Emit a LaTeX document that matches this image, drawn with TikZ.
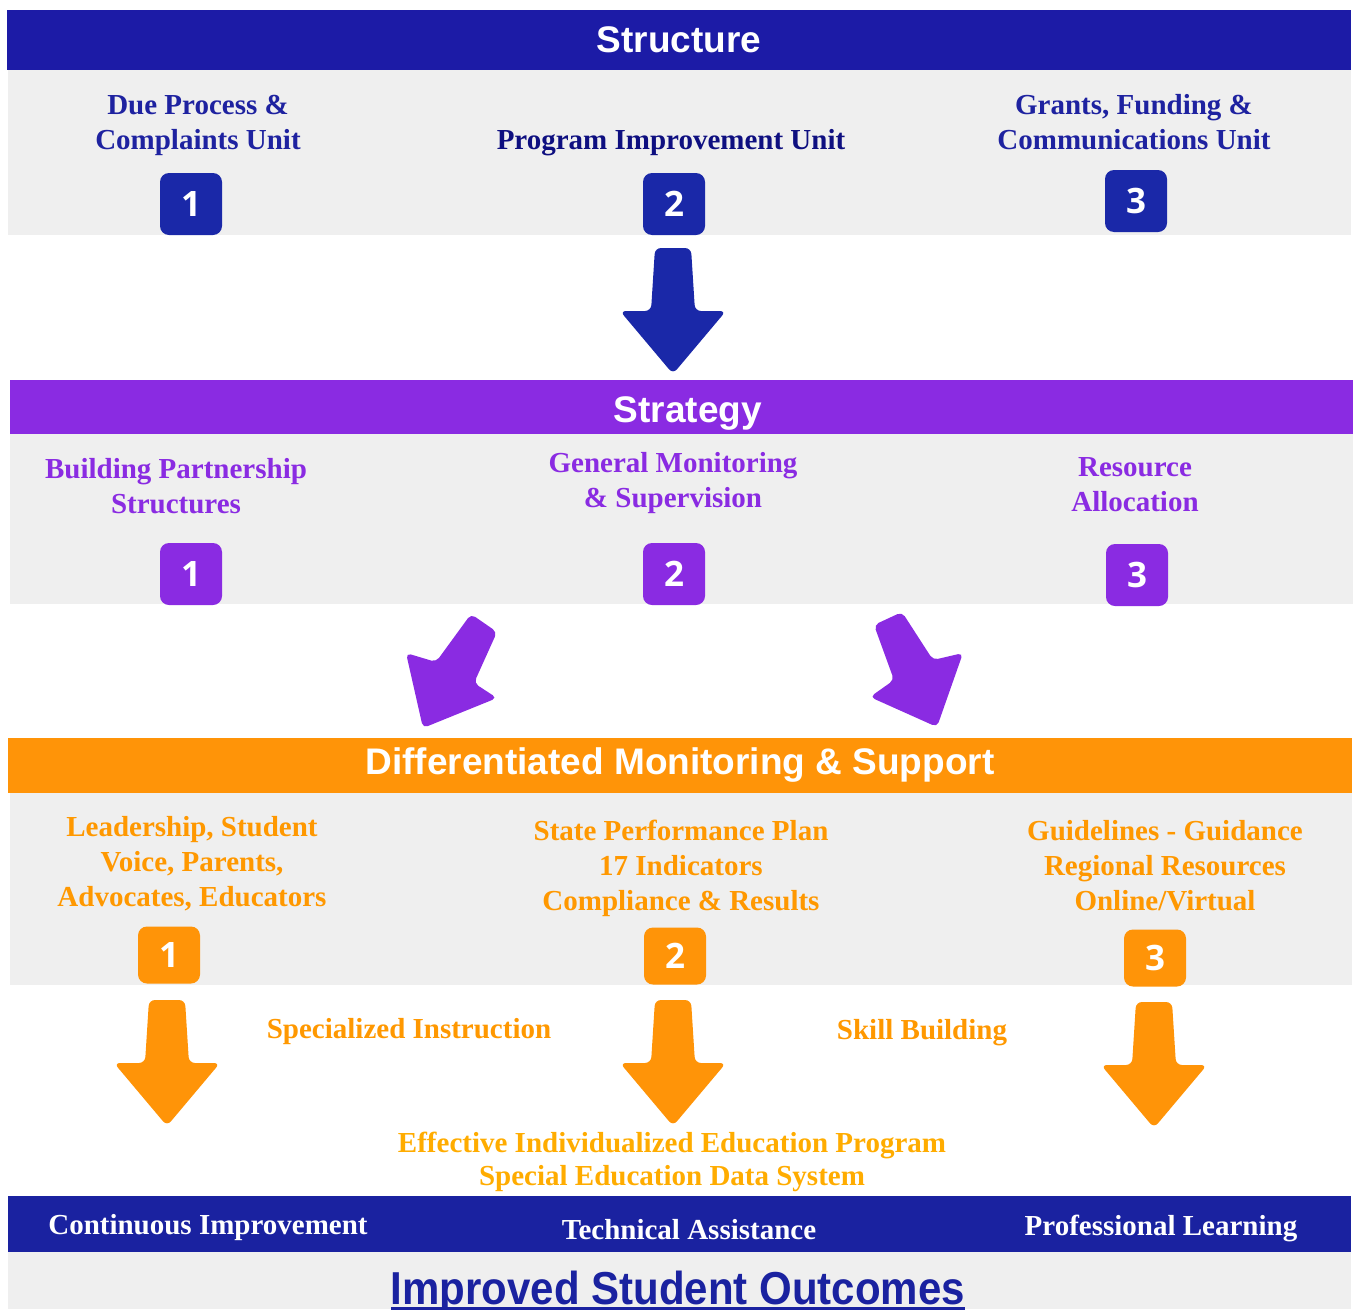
\documentclass[tikz,border=0pt]{standalone}
\usepackage{fontspec}
\setmainfont{Liberation Serif}
\setsansfont{Liberation Sans}
\newfontfamily\digitfont{Open Sans}
\usetikzlibrary{positioning}

\definecolor{structblue}{RGB}{28,27,166}
\definecolor{badgeblue}{RGB}{26,40,168}
\definecolor{navytext}{RGB}{30,34,160}
\definecolor{darknavy}{RGB}{14,15,128}
\definecolor{stratpurple}{RGB}{138,43,226}
\definecolor{dmsorange}{RGB}{255,148,8}
\definecolor{orangetext}{RGB}{255,152,0}
\definecolor{yellowtext}{RGB}{255,172,0}
\definecolor{bottomblue}{RGB}{26,34,160}
\definecolor{bandgray}{RGB}{239,239,239}

\tikzset{
  banner/.style={text=white, font=\sffamily\bfseries\fontsize{37}{40}\selectfont},
  unit/.style={text=#1, align=center, font=\bfseries\fontsize{29}{35}\selectfont},
  badge/.style={fill=#1, rounded corners=9pt, minimum width=62pt, minimum height=62pt,
    inner sep=0pt, text=white, font=\digitfont\bfseries\fontsize{35}{35}\selectfont},
  flatbadge/.style={badge=#1, minimum height=57pt},
}
% block arrow pointing down: colour, centre x, top y
\newcommand{\downblock}[3]{%
  \fill[#1, rounded corners=6pt] (#2-18,#3) -- (#2+18,#3) -- (#2+22,#3+63) -- (#2+53,#3+63)
    -- (#2,#3+126) -- (#2-53,#3+63) -- (#2-22,#3+63) -- cycle;}

\begin{document}
\begin{tikzpicture}[x=1pt, y=-1pt]
  %%%%% START %%%%%
  \useasboundingbox (0,0) rectangle (1354,1309);

  % structure
  \fill[structblue] (7,10) rectangle (1351,70);
  \fill[bandgray] (8,70) rectangle (1351,235);
  \node[banner] (structure) at (679,40) {Structure};
  \node[unit=navytext] (dueproc) at (198,125) {Due Process \&\\Complaints Unit};
  \node[unit=darknavy] (progimp) at (671,143) {Program Improvement Unit};
  \node[unit=navytext] (grants) at (1134,122) {Grants, Funding \&\\Communications Unit};
  \node[badge=badgeblue] (sA) at (191,204) {1};
  \node[badge=badgeblue] (sB) at (674,204) {2};
  \node[badge=badgeblue] (sC) at (1136,201) {3};

  \downblock{badgeblue}{673}{248}

  % strategy
  \fill[stratpurple] (10,380) rectangle (1353,434);
  \fill[bandgray] (10,434) rectangle (1353,604);
  \node[banner] (strategy) at (688,413) {Strategy};
  \node[unit=stratpurple] (partner) at (176,486) {Building Partnership\\Structures};
  \node[unit=stratpurple] (monitor) at (673,483) {General Monitoring\\\& Supervision};
  \node[unit=stratpurple] (resource) at (1135,485) {Resource\\Allocation};
  \node[badge=stratpurple] (tA) at (191,574) {1};
  \node[badge=stratpurple] (tB) at (674,574) {2};
  \node[badge=stratpurple] (tC) at (1137,575) {3};

  \fill[stratpurple, rounded corners=5pt] (471,614) -- (497,632) -- (474,683) -- (497,698)
    -- (423,728) -- (406,653) -- (436,662) -- cycle;
  \fill[stratpurple, rounded corners=5pt] (874,625) -- (902,612) -- (933,660) -- (963,653)
    -- (937,727) -- (870,697) -- (894,680) -- cycle;

  % differentiated monitoring
  \fill[dmsorange] (8,738) rectangle (1352,793);
  \fill[bandgray] (10,793) rectangle (1352,985);
  \node[banner] (dms) at (680,765) {Differentiated Monitoring \& Support};
  \node[unit=orangetext] (leader) at (192,864) {Leadership, Student\\Voice, Parents,\\Advocates, Educators};
  \node[unit=orangetext] (spp) at (681,868) {State Performance Plan\\17 Indicators\\Compliance \& Results};
  \node[unit=orangetext] (guide) at (1165,866) {Guidelines - Guidance\\Regional Resources\\Online/Virtual};
  \node[flatbadge=dmsorange] (dA) at (169,955) {1};
  \node[flatbadge=dmsorange] (dB) at (675,956) {2};
  \node[flatbadge=dmsorange] (dC) at (1155,958) {3};

  \downblock{dmsorange}{167}{1000}
  \downblock{dmsorange}{673}{1000}
  \downblock{dmsorange}{1154}{1002}

  \node[unit=orangetext] (special) at (409,1032) {Specialized Instruction};
  \node[unit=orangetext] (skill) at (922,1033) {Skill Building};
  \node[unit=yellowtext, font=\bfseries\fontsize{29}{33}\selectfont] (iep) at (672,1162)
    {Effective Individualized Education Program\\Special Education Data System};

  % outcomes
  \fill[bottomblue] (8,1196) rectangle (1351,1252);
  \fill[bandgray] (8,1252) rectangle (1351,1309);
  \node[unit=white] (contimp) at (208,1228) {Continuous Improvement};
  \node[unit=white] (techass) at (689,1230) {Technical Assistance};
  \node[unit=white] (proflearn) at (1161,1228) {Professional Learning};
  \node[anchor=base, inner sep=0pt, text=bottomblue, yscale=1.1,
    font=\sffamily\bfseries\fontsize{42}{44}\selectfont] (outcome) at (678,1304) {Improved Student Outcomes};
  \fill[bottomblue] ([yshift=-3pt]outcome.base west) rectangle ([yshift=-6pt]outcome.base east);
  %%%%% END %%%%%
\end{tikzpicture}
\end{document}
